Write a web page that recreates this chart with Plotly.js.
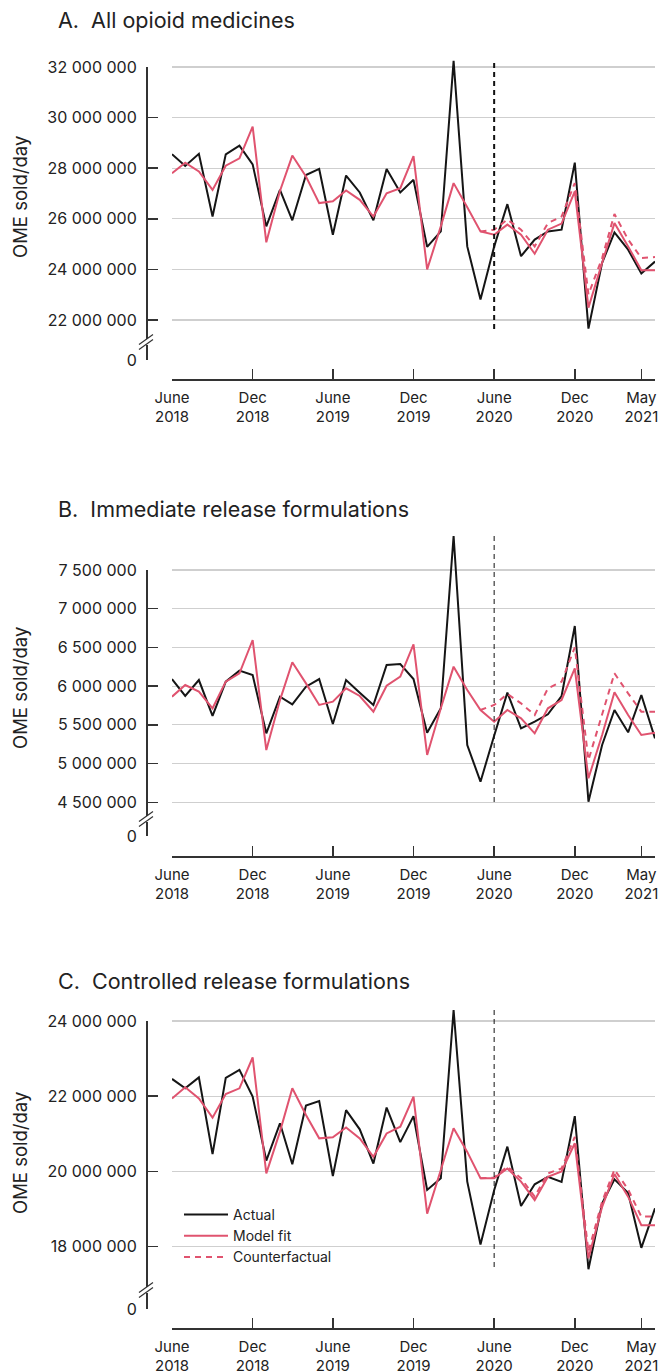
<!DOCTYPE html>
<html><head><meta charset="utf-8">
<script src="https://cdn.plot.ly/plotly-3.0.1.min.js"></script>
<style>html,body{margin:0;padding:0;background:#fff}#chart{width:660px;height:1372px}</style>
</head><body><div id="chart"></div>
<script>
// ---------- DATA (values in millions of OME sold/day) ----------
const months = ['2018-06-01','2018-07-01','2018-08-01','2018-09-01','2018-10-01','2018-11-01','2018-12-01',
  '2019-01-01','2019-02-01','2019-03-01','2019-04-01','2019-05-01','2019-06-01','2019-07-01','2019-08-01',
  '2019-09-01','2019-10-01','2019-11-01','2019-12-01','2020-01-01','2020-02-01','2020-03-01','2020-04-01',
  '2020-05-01','2020-06-01','2020-07-01','2020-08-01','2020-09-01','2020-10-01','2020-11-01','2020-12-01',
  '2021-01-01','2021-02-01','2021-03-01','2021-04-01','2021-05-01','2021-06-01'];
const cfMonths = ['2020-05-01','2020-06-01','2020-07-01','2020-08-01','2020-09-01','2020-10-01','2020-11-01',
  '2020-12-01','2021-01-01','2021-02-01','2021-03-01','2021-04-01','2021-05-01','2021-06-01'];
const interventionMonth = '2020-06-01';
const tickMonths = ['2018-06-01','2018-12-01','2019-06-01','2019-12-01','2020-06-01','2020-12-01','2021-05-01'];
const tickMonthLabels = ['June<br>2018','Dec<br>2018','June<br>2019','Dec<br>2019','June<br>2020','Dec<br>2020','May<br>2021'];

const panelTitles = ['A.\u00a0 All opioid medicines','B.\u00a0 Immediate release formulations','C.\u00a0 Controlled release formulations'];
const yTitle = 'OME sold/day';
const seriesNames = ['Actual','Model fit','Counterfactual'];

const allActual = [28.55,28.09,28.57,26.09,28.55,28.89,28.15,25.70,27.14,25.94,27.73,27.97,25.37,27.71,27.04,25.94,27.97,27.04,27.54,24.89,25.50,32.24,24.91,22.81,24.90,26.58,24.52,25.18,25.50,25.57,28.22,21.66,24.26,25.46,24.78,23.84,24.31];
const allFit = [27.80,28.22,27.87,27.14,28.10,28.39,29.64,25.07,27.10,28.50,27.67,26.62,26.69,27.12,26.75,26.09,27.01,27.21,28.48,24.00,25.70,27.41,26.46,25.50,25.37,25.77,25.37,24.62,25.57,25.81,27.08,22.49,24.26,25.83,24.91,23.97,23.97];
const allCf = [25.50,25.57,25.97,25.57,24.91,25.83,26.09,27.41,23.01,24.45,26.19,25.18,24.45,24.49];

const irActual = [6.092,5.873,6.079,5.615,6.058,6.200,6.144,5.391,5.864,5.765,5.993,6.092,5.511,6.079,5.916,5.757,6.273,6.286,6.092,5.399,5.714,7.939,5.240,4.766,5.360,5.916,5.455,5.541,5.636,5.873,6.777,4.508,5.240,5.692,5.404,5.886,5.326];
const irFit = [5.864,6.015,5.929,5.714,6.058,6.166,6.596,5.175,5.820,6.308,6.036,5.757,5.800,5.972,5.873,5.671,6.006,6.122,6.540,5.111,5.714,6.252,5.950,5.692,5.541,5.692,5.584,5.391,5.714,5.821,6.230,4.810,5.369,5.920,5.627,5.369,5.399];
const irCf = [5.692,5.757,5.899,5.778,5.627,5.972,6.058,6.501,5.046,5.649,6.166,5.907,5.670,5.670];

const crActual = [22.46,22.21,22.50,20.46,22.49,22.70,21.99,20.29,21.28,20.19,21.75,21.87,19.88,21.63,21.12,20.21,21.70,20.78,21.47,19.51,19.82,24.29,19.73,18.06,19.50,20.66,19.08,19.66,19.86,19.72,21.47,17.40,19.15,19.79,19.43,17.97,19.02];
const crFit = [21.94,22.24,21.94,21.43,22.06,22.21,23.03,19.95,21.06,22.21,21.50,20.88,20.91,21.17,20.88,20.39,21.01,21.19,21.99,18.88,20.04,21.15,20.52,19.82,19.82,20.08,19.73,19.24,19.86,20.00,20.75,17.69,19.06,19.93,19.33,18.57,18.57];
const crCf = [19.82,19.84,20.13,19.82,19.33,19.95,20.08,20.92,17.87,19.20,20.05,19.52,18.80,18.80];

const allTicks = [22,24,26,28,30,32];
const allTickText = ['22 000 000','24 000 000','26 000 000','28 000 000','30 000 000','32 000 000'];
const irTicks = [4.5,5,5.5,6,6.5,7,7.5];
const irTickText = ['4 500 000','5 000 000','5 500 000','6 000 000','6 500 000','7 000 000','7 500 000'];
const crTicks = [18,20,22,24];
const crTickText = ['18 000 000','20 000 000','22 000 000','24 000 000'];
const breakLabel = '0';

// ---------- LAYOUT GEOMETRY (pixels) ----------
const W = 660, H = 1372;
const px = v => v / W, py = v => 1 - v / H;
const FONT = 'Inter, "Noto Sans", sans-serif';
const INK = '#222222';
const BLACK = '#151515', RED = '#e0536f';

const panels = [
  {actual: allActual, fit: allFit, cf: allCf, ticks: allTicks, tickText: allTickText,
   ref: [[22, 320], [32, 67]], top: 57, bot: 360, xLine: 379, vTop: 60, vBot: 329, vW: 2,
   titleY: 20, yTitleY: 197, breakY: 342},
  {actual: irActual, fit: irFit, cf: irCf, ticks: irTicks, tickText: irTickText,
   ref: [[4.5, 802.3], [7.5, 570]], top: 533, bot: 836, xLine: 856, vTop: 536, vBot: 802, vW: 1,
   titleY: 509, yTitleY: 688, breakY: 819},
  {actual: crActual, fit: crFit, cf: crCf, ticks: crTicks, tickText: crTickText,
   ref: [[18, 1246.7], [24, 1021]], top: 1007, bot: 1309, xLine: 1328, vTop: 1009, vBot: 1267, vW: 1,
   titleY: 981, yTitleY: 1153, breakY: 1290}
];

const data = [];
const layout = {
  width: W, height: H, margin: {l: 0, r: 0, t: 0, b: 0},
  paper_bgcolor: '#ffffff', plot_bgcolor: 'rgba(0,0,0,0)',
  font: {family: FONT, color: INK, size: 16},
  showlegend: true,
  legend: {x: px(179), y: py(1199), xanchor: 'left', yanchor: 'top', bgcolor: 'rgba(0,0,0,0)',
           font: {size: 14, family: FONT, color: INK}, tracegroupgap: 0, itemwidth: 44},
  shapes: [], annotations: []
};

panels.forEach((p, i) => {
  const xa = i === 0 ? 'x' : 'x' + (i + 1);
  const yd = i === 0 ? 'y' : 'y' + (2 * i + 1);
  const yl = 'y' + (2 * i + 2);
  const [[v1, p1], [v2, p2]] = p.ref;
  const s = (p1 - p2) / (v2 - v1);               // pixels per unit
  const vAt = pix => v1 + (p1 - pix) / s;
  const lo = vAt(p.bot), hi = vAt(p.top);
  const topTick = p.ticks[p.ticks.length - 1];
  const leg = i === 2;

  data.push({x: months, y: p.actual, xaxis: xa, yaxis: yd, type: 'scatter', mode: 'lines',
    name: seriesNames[0], line: {color: BLACK, width: 2}, showlegend: leg, hoverinfo: 'skip'});
  data.push({x: months, y: p.fit, xaxis: xa, yaxis: yd, type: 'scatter', mode: 'lines',
    name: seriesNames[1], line: {color: RED, width: 2}, showlegend: leg, hoverinfo: 'skip'});
  data.push({x: cfMonths, y: p.cf, xaxis: xa, yaxis: yd, type: 'scatter', mode: 'lines',
    name: seriesNames[2], line: {color: RED, width: 2, dash: '6px,5px'}, showlegend: leg, hoverinfo: 'skip'});
  data.push({x: [], y: [], xaxis: xa, yaxis: yl, type: 'scatter', mode: 'lines',
    showlegend: false, hoverinfo: 'skip'});

  const xKey = i === 0 ? 'xaxis' : 'xaxis' + (i + 1);
  const ydKey = i === 0 ? 'yaxis' : 'yaxis' + (2 * i + 1);
  const ylKey = 'yaxis' + (2 * i + 2);

  layout[xKey] = {
    type: 'date', domain: [px(172), px(655)], range: [months[0], months[months.length - 1]],
    anchor: 'free', position: py(p.xLine),
    tickmode: 'array', tickvals: tickMonths, ticktext: tickMonthLabels, tickangle: 0,
    ticks: 'inside', ticklen: 10, tickwidth: 1.5, tickcolor: '#333',
    showline: true, linecolor: '#333', linewidth: 1.5, showgrid: false, zeroline: false,
    tickfont: {size: 15, family: FONT, color: INK}, ticklabelstandoff: 4, fixedrange: true
  };
  layout[ydKey] = {
    domain: [py(p.bot), py(p.top)], range: [lo, hi], anchor: xa,
    tickmode: 'array', tickvals: p.ticks, showticklabels: false, ticks: '',
    showgrid: true, gridcolor: '#cfcfcf', gridwidth: 1.2, showline: false, zeroline: false, fixedrange: true
  };
  const fake0 = lo + (hi - lo) * 1e-5;
  layout[ylKey] = {
    domain: [py(p.bot), py(p.ref[1][1])], range: [lo, topTick], anchor: 'free', position: px(146),
    side: 'left', tickmode: 'array', tickvals: [fake0].concat(p.ticks), ticktext: [breakLabel].concat(p.tickText),
    ticks: 'inside', ticklen: 10, tickwidth: 1.5, tickcolor: '#333',
    showline: true, linecolor: '#333', linewidth: 1.5, showgrid: false, zeroline: false,
    tickfont: {size: 16, family: FONT, color: INK}, ticklabelstandoff: 6, fixedrange: true
  };

  // intervention marker
  layout.shapes.push({type: 'line', xref: xa, x0: interventionMonth, x1: interventionMonth,
    yref: 'paper', y0: py(p.vBot), y1: py(p.vTop),
    line: {color: '#111', width: p.vW, dash: p.vW > 1 ? '5px,4px' : '5px,4px'}});
  // axis break
  layout.shapes.push({type: 'rect', xref: 'paper', yref: 'paper', layer: 'above',
    x0: px(143), x1: px(149), y0: py(p.breakY + 3), y1: py(p.breakY - 3),
    fillcolor: '#ffffff', line: {width: 0}});
  [-2.5, 2.5].forEach(d => layout.shapes.push({type: 'line', xref: 'paper', yref: 'paper', layer: 'above',
    x0: px(139), y0: py(p.breakY + d + 5), x1: px(153), y1: py(p.breakY + d - 5),
    line: {color: '#333', width: 1.2}}));

  layout.annotations.push({text: panelTitles[i], xref: 'paper', yref: 'paper', x: px(56), y: py(p.titleY),
    xanchor: 'left', yanchor: 'middle', showarrow: false, font: {size: 21.5, family: FONT, color: INK}});
  layout.annotations.push({text: yTitle, xref: 'paper', yref: 'paper', x: px(20), y: py(p.yTitleY),
    xanchor: 'center', yanchor: 'middle', textangle: -90, showarrow: false,
    font: {size: 18.5, family: FONT, color: INK}});
});

Plotly.newPlot('chart', data, layout, {staticPlot: true, displayModeBar: false});
</script>
</body></html>
